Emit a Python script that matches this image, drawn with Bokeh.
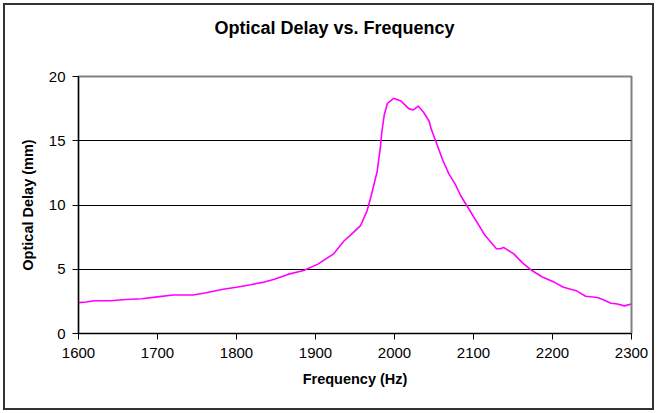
from bokeh.plotting import figure
from bokeh.models import FixedTicker, Range1d, Title
from bokeh.embed import file_html
from bokeh.resources import INLINE

frequency_hz = [1600, 1610, 1620, 1640, 1660, 1680, 1700, 1720, 1745, 1760, 1783, 1800,
                1818, 1835, 1847, 1865, 1885, 1903, 1923, 1936, 1945, 1957, 1965, 1970,
                1974, 1978, 1982, 1984, 1987, 1991, 1999, 2008, 2018, 2024, 2030, 2037,
                2044, 2046, 2052, 2061, 2069, 2077, 2084, 2092, 2105, 2115, 2122, 2129,
                2134, 2138, 2151, 2162, 2174, 2187, 2202, 2214, 2231, 2242, 2257, 2265,
                2274, 2282, 2291, 2300]
optical_delay_mm = [2.4, 2.45, 2.55, 2.55, 2.65, 2.7, 2.85, 3.0, 3.0, 3.15, 3.45, 3.6,
                    3.8, 4.0, 4.2, 4.6, 4.9, 5.4, 6.2, 7.2, 7.7, 8.4, 9.5, 10.6,
                    11.6, 12.6, 14.4, 15.7, 17.0, 17.9, 18.3, 18.1, 17.5, 17.4, 17.7, 17.2,
                    16.5, 16.0, 15.0, 13.5, 12.4, 11.6, 10.7, 9.9, 8.6, 7.6, 7.1, 6.6,
                    6.6, 6.7, 6.2, 5.5, 4.9, 4.4, 4.0, 3.6, 3.3, 2.9, 2.8, 2.6,
                    2.35, 2.3, 2.15, 2.3]
x_ticks = [1600, 1700, 1800, 1900, 2000, 2100, 2200, 2300]
y_ticks = [0, 5, 10, 15, 20]
title_text = "Optical Delay vs. Frequency"

FONT = "Liberation Sans"

p = figure(width=657, height=413, output_backend="svg", toolbar_location=None,
           x_range=Range1d(1600, 2300), y_range=Range1d(0, 20),
           title=title_text,
           min_border_left=78, min_border_right=26, min_border_top=76, min_border_bottom=80)
p.styles = {"outline": "2px solid #333333", "outline-offset": "-5px",
            "background-color": "white"}
p.border_fill_color = None
p.background_fill_color = "white"

p.title.text_font = FONT
p.title.text_font_size = "18px"
p.title.text_font_style = "bold"
p.title.text_color = "black"
p.title.align = "left"
p.title.offset = 136
p.title.standoff = 29

# blank spacer between the title and the plot frame
spacer = Title(text=" ", text_font_size="10px", standoff=11, text_color="white")
p.add_layout(spacer, "above")

p.line(frequency_hz, optical_delay_mm, line_color="#FF00FF", line_width=1.6)

p.outline_line_color = "#808080"
p.outline_line_width = 2
p.xgrid.visible = False
p.ygrid.grid_line_color = "black"
p.ygrid.grid_line_width = 1.2

for ax in (p.xaxis[0], p.yaxis[0]):
    ax.axis_line_color = "black"
    ax.axis_line_width = 1.2
    ax.major_tick_line_color = "black"
    ax.major_tick_in = 0
    ax.major_tick_out = 6
    ax.minor_tick_line_color = None
    ax.major_label_text_font = FONT
    ax.major_label_text_font_size = "15px"
    ax.major_label_text_color = "black"
    ax.axis_label_text_font = FONT
    ax.axis_label_text_font_size = "14.5px"
    ax.axis_label_text_font_style = "bold"
    ax.axis_label_text_color = "black"

p.xaxis.ticker = FixedTicker(ticks=x_ticks)
p.yaxis.ticker = FixedTicker(ticks=y_ticks)
p.xaxis.axis_label = "Frequency (Hz)"
p.yaxis.axis_label = "Optical Delay (mm)"
p.xaxis.major_label_standoff = 8
p.yaxis.major_label_standoff = 7
p.xaxis.axis_label_standoff = 10
p.yaxis.axis_label_standoff = 10

open("out.html", "w").write(file_html(p, INLINE))
